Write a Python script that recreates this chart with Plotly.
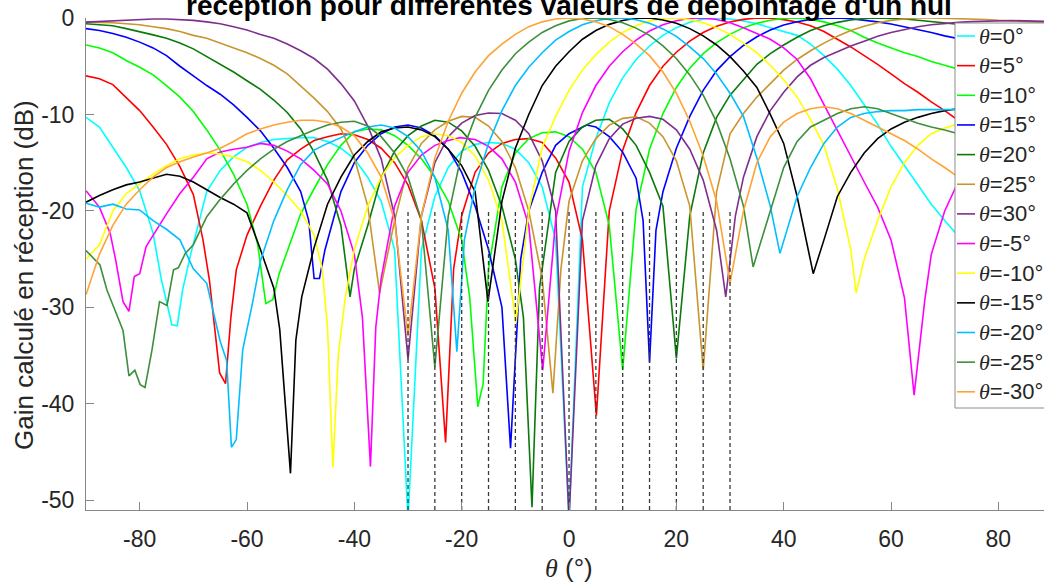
import plotly.graph_objects as go

# ------------------------------------------------------------------ data
TITLE = "réception pour différentes valeurs de dépointage d'un nul"
Y_LABEL = "Gain calculé en réception (dB)"
STEER_LABELS = ["0", "5", "10", "15", "20", "25", "30", "-5", "-10", "-15", "-20", "-25", "-30"]
NULL_ANGLES = [-30, -25, -20, -15, -10, -5, 0, 5, 10, 15, 20, 25, 30]
NULL_MARK_Y = [-51, -20]
X_TICKS = [-80, -60, -40, -20, 0, 20, 40, 60, 80]
X_TICK_TEXT = ["-80", "-60", "-40", "-20", "0", "20", "40", "60", "80"]
Y_TICKS = [-50, -40, -30, -20, -10, 0]
Y_TICK_TEXT = ["-50", "-40", "-30", "-20", "-10", "0"]

X_T0 = [-90, -87.5, -85, -82.5, -80, -77.5, -76, -74, -73, -72, -70.5, -67.5, -65, -62.5, -60, -57.5, -55, -52.5, -50,
        -47.5, -45, -42.5, -40, -37.5, -35, -32.5, -30, -27.5, -25, -22.5, -20, -17.5, -15, -12.5, -10, -7.5, -5, -2.5, 0,
        2.5, 5, 7.5, 10, 12.5, 15, 17.5, 20, 22.5, 25, 27.5, 30, 32.5, 35, 37.5, 40, 42.5, 45, 47.5, 50, 52.5, 55, 57.5,
        60, 62.5, 65, 67.5, 70, 72.5, 75, 77.5, 80, 82.5, 85, 88.5]
G_T0 = [-10.3, -11.3, -13.4, -15.5, -17.9, -22.3, -27, -31.8, -31.9, -28.2, -24.5, -18, -15.8, -14.4, -13.4, -12.9, -12.6,
        -12.5, -12.4, -12.4, -12.8, -13.5, -14.6, -16.5, -19, -24, -52, -24, -18.5, -15.5, -13.8, -13.1, -12.9, -13,
        -13.6, -15, -17.5, -23, -52, -17.5, -12.5, -8.8, -6.2, -4.3, -2.9, -1.8, -1.0, -0.45, -0.12, 0, -0.1, -0.3, -0.6,
        -1.0, -1.4, -1.8, -2.7, -3.9, -5.3, -7.0, -9.0, -11.0, -13.3, -15.3, -17.2, -19.3, -21, -22.6, -25, -28, -30,
        -27, -24, -20]

X_T5 = [-90, -87.5, -85, -82.5, -80, -77.5, -75, -72.5, -70, -68.2, -67, -65.1, -64, -63, -62, -60, -57.5, -55, -52.5,
        -50, -47.5, -45, -42.5, -40, -37.5, -35, -32.5, -30, -27.5, -25, -23, -21.5, -20, -17.5, -15, -12.5, -10, -7.5,
        -5, -2.5, 0, 2.5, 5.1, 7.5, 10, 12.5, 15, 17.5, 20, 22.5, 25, 27.5, 30, 32.5, 35, 37.5, 40, 42.5, 45, 47.5, 50,
        52.5, 55, 57.5, 60, 62.5, 65, 67.5, 70, 72.5, 75, 77.5, 80, 82.5, 85, 88.5]
G_T5 = [-6.0, -6.3, -6.9, -8.2, -9.6, -11.3, -13.1, -15.4, -18.3, -23, -27.2, -36.8, -37.9, -31, -26.1, -22.5, -19.5,
        -16.8, -14.7, -13.6, -12.7, -12.3, -12.0, -12.1, -12.6, -13.5, -15, -17.3, -21, -28, -44, -26, -20.5, -16, -14,
        -13, -12.6, -12.5, -12.9, -14.5, -17, -23, -41.2, -20, -13.7, -9.8, -7.0, -5.0, -3.55, -2.4, -1.5, -0.85, -0.42,
        -0.14, 0, -0.03, -0.17, -0.42, -0.8, -1.4, -2.2, -3.0, -3.9, -4.8, -5.8, -6.8, -7.7, -8.7, -9.6, -10.6, -11.5,
        -12.3, -13, -13.5, -14, -14.5]

X_T10 = [-90, -87.5, -85, -82.5, -80, -77.5, -75, -72.5, -70, -67.5, -65, -62.5, -60, -58, -56.5, -55.2, -54, -52.5,
         -50, -47.5, -45, -42.5, -40, -37.5, -35, -32.5, -30, -27.5, -25, -22.5, -20, -18.5, -17, -16, -15, -12.5, -10,
         -7.5, -5, -2.5, 0, 2.5, 5, 7.5, 10, 12.5, 15, 17.5, 20, 22.5, 25, 27.5, 30, 32.5, 35, 37.5, 40, 42.5, 45, 47.5,
         50, 52.5, 55, 57.5, 60, 62.5, 65, 67.5, 70, 72.5, 75, 77.5, 80, 82.5, 85, 88.5]
G_T10 = [-2.8, -3.1, -3.6, -4.4, -5.1, -5.9, -7.0, -8.2, -9.7, -11.6, -13.7, -16.2, -19.3, -23.5, -29.6, -29.2, -26.5,
         -24.1, -20.3, -17.7, -15.2, -13.2, -11.8, -11.5, -11.6, -12.2, -13.2, -14.6, -16.5, -19, -23, -29, -40.3, -37.9,
         -26, -17.5, -14, -12.5, -11.9, -11.8, -12.3, -13.6, -16, -21.5, -36.5, -19.8, -13.6, -9.9, -7.2, -5.2, -3.7,
         -2.55, -1.7, -1.0, -0.54, -0.23, -0.05, 0, -0.15, -0.4, -0.8, -1.3, -2.0, -2.6, -3.1, -3.6, -4.0, -4.5, -4.9,
         -5.3, -5.8, -6.3, -6.8, -7.2, -7.6, -8.0]

X_T15 = [-90, -87.5, -85, -82.5, -80, -77.5, -75, -72.5, -70, -67.5, -65, -62.5, -60, -57.5, -55, -52.5, -50, -48.5,
         -47.5, -46.5, -45.5, -42.5, -40, -37.5, -35, -32.5, -30, -27.5, -25, -22.5, -20, -17.5, -15, -12.5, -10.9, -9,
         -7.5, -5, -2.5, 0, 3.3, 5, 7.5, 10, 12.5, 13.8, 15, 16.2, 17.5, 20, 22.5, 25, 27.5, 30, 32.5, 35, 37.5, 40, 42.5,
         45, 47.5, 50, 52.5, 55, 57.5, 60, 62.5, 65, 67.5, 70, 72.5, 75, 77.5, 80, 82.5, 85, 88.5]
G_T15 = [-1.1, -1.3, -1.6, -2.0, -2.5, -3.1, -3.9, -5.0, -6.0, -7.0, -7.9, -9.0, -10.3, -11.7, -13.5, -15.5, -18, -21,
         -27, -27, -24.1, -18, -15, -13.2, -12, -11.3, -11.1, -11.4, -12.2, -13.6, -16, -19.5, -24, -30, -44.6, -25, -20,
         -16, -13.2, -12, -11.1, -11.3, -12.3, -13.9, -16.6, -21, -35.7, -22, -18, -13.5, -10.2, -7.5, -5.45, -4.0, -2.85,
         -1.95, -1.24, -0.72, -0.38, -0.15, -0.03, 0, -0.07, -0.2, -0.4, -0.62, -0.9, -1.2, -1.5, -1.85, -2.15, -2.45,
         -2.7, -2.9, -3.1, -3.3, -3.4]

X_T20 = [-90, -87.5, -85, -82.5, -80, -77.5, -75, -72.5, -70, -67.5, -65, -62.5, -60, -57.5, -55, -52.5, -50, -47.5, -45,
         -42.5, -40.8, -40, -37.5, -35, -32.5, -30, -27.5, -25, -22.5, -20, -17.5, -15, -12.5, -10, -8.5, -6.9, -5.5,
         -2.5, 0, 2.5, 5, 7.5, 10, 12.5, 15, 17.5, 20, 22.5, 25, 27.5, 30, 32.5, 35, 37.5, 40, 42.5, 45, 47.5, 50, 52.5,
         55, 57.5, 60, 62.5, 65, 67.5, 70, 72.5, 75, 77.5, 80, 82.5, 85, 88.5]
G_T20 = [-0.6, -0.7, -0.8, -1.1, -1.4, -1.75, -2.1, -2.6, -3.2, -4.0, -4.8, -5.6, -6.5, -7.4, -8.5, -9.8, -11.5, -13.9,
         -16.8, -21.5, -28.9, -26, -21.5, -16.5, -13.8, -12.2, -11.2, -10.6, -10.8, -11.7, -13.3, -15.8, -19.5, -25, -31,
         -50.7, -28, -16, -12.8, -11.3, -10.6, -10.5, -11.5, -13.2, -16, -19.5, -35.3, -20.5, -14, -10.3, -8.0, -6.4,
         -4.8, -3.7, -2.8, -2.0, -1.3, -0.8, -0.45, -0.2, -0.05, 0, -0.03, -0.11, -0.23, -0.37, -0.52, -0.68, -0.83,
         -0.95, -1.1, -1.2, -1.3, -1.35]

X_T25 = [-90, -87.5, -85, -82.5, -80, -77.5, -75, -72.5, -70, -67.5, -65, -62.5, -60, -57.5, -55, -52.5, -50, -47.5, -45,
         -42.5, -40, -37.5, -35.3, -32.5, -30, -27.5, -25, -22.5, -20, -17.5, -15, -12.5, -10, -7.5, -5, -3, -1.5, 0,
         2.5, 5, 7.5, 10, 12.5, 15, 17.5, 20, 22.5, 25, 27.5, 30, 32.5, 35, 37.5, 40, 42.5, 45, 47.5, 50, 52.5, 55, 57.5,
         60, 62.5, 65, 67.5, 70, 72.5, 75, 77.5, 80, 82.5, 85, 88.5]
G_T25 = [-0.43, -0.45, -0.5, -0.6, -0.7, -0.9, -1.1, -1.4, -1.8, -2.1, -2.6, -3.1, -3.6, -4.2, -4.9, -5.8, -7.0, -8.3,
         -9.7, -11.5, -14.5, -19.5, -28.5, -21, -15.5, -13, -11.6, -10.7, -10.2, -10.3, -11.2, -12.8, -15.5, -20, -27,
         -38.9, -26, -19, -14.8, -12.5, -11.1, -10.4, -10.25, -10.9, -12.3, -14.8, -19.5, -36.5, -18, -12, -9.9, -8.2,
         -6.8, -5.4, -4.3, -3.4, -2.6, -1.9, -1.3, -0.85, -0.5, -0.25, -0.1, 0, 0, -0.02, -0.05, -0.1, -0.15, -0.25,
         -0.3, -0.4, -0.45]

X_T30 = [-90, -87.5, -85, -82.5, -80, -77.5, -75, -72.5, -70, -67.5, -65, -62.5, -60, -57.5, -55, -52.5, -50, -47.5, -45,
         -42.5, -40, -37.5, -35, -32.5, -30, -27.5, -25, -22.5, -20, -17.5, -15, -12.5, -10, -7.5, -5, -2.5, 0, 2.5, 5,
         7.5, 10, 12.5, 15, 17.5, 20, 22.5, 25, 27.5, 29.2, 31, 32.5, 35, 37.5, 40, 42.5, 45, 47.5, 50, 52.5, 55, 57.5,
         60, 62.5, 65, 67.5, 70, 72.5, 75, 77.5, 80, 82.5, 85, 88.5]
G_T30 = [-0.43, -0.35, -0.28, -0.2, -0.15, -0.1, -0.1, -0.15, -0.25, -0.4, -0.6, -0.9, -1.25, -1.7, -2.1, -2.7, -3.4,
         -4.2, -5.3, -6.8, -8.6, -11.2, -14.6, -20.5, -35.4, -20.5, -15, -12.3, -10.9, -10.1, -9.85, -9.9, -10.6, -12,
         -14.8, -20, -52, -21, -15.3, -12.5, -11, -10.4, -10.2, -10.5, -11.6, -13.6, -16.8, -22, -28.9, -20.5, -16.5,
         -12.3, -9.6, -7.7, -6.1, -4.9, -4.1, -3.5, -2.9, -2.4, -1.9, -1.5, -1.2, -0.9, -0.7, -0.55, -0.45, -0.38, -0.32,
         -0.28, -0.26, -0.3, -0.35]

X_TM5 = [-90, -87.5, -85.5, -84.5, -83.1, -82, -81, -80, -78.8, -77.5, -75, -72.5, -70, -67.5, -65, -62.5, -60, -57.5,
         -55, -52.5, -50, -47.5, -45, -42.5, -40, -38.5, -37, -36, -35, -32.5, -30, -27.5, -25, -22.5, -20.3, -17.5, -15,
         -12.5, -10, -7.5, -4.9, -2.5, 0, 2.5, 5, 7.5, 10, 12.5, 15, 17.5, 20, 22.5, 25, 27.5, 30, 32.5, 35, 37.5, 40,
         42.5, 45, 47.5, 50, 52.5, 55, 57.5, 60, 62.5, 64.3, 66.3, 67.5, 70, 72.5, 75, 77.5, 80, 82.5, 85, 88.5]
G_TM5 = [-17.9, -19.6, -22.3, -25, -29.4, -30.4, -26.8, -26.5, -23.7, -22.5, -20.3, -18.2, -16.5, -14.6, -13.9, -13.6,
         -13.4, -13.0, -13.2, -13.8, -14.6, -15.8, -17.2, -20, -24.5, -31, -46.5, -32, -27, -19.5, -16, -14.2, -13.2,
         -12.7, -12.4, -12.6, -13.3, -14.6, -17, -21.5, -36.5, -21, -13.8, -9.8, -7.0, -5.0, -3.5, -2.3, -1.35, -0.7,
         -0.28, -0.04, 0, -0.15, -0.5, -1.0, -1.6, -2.2, -3.1, -4.3, -6.3, -9, -11.6, -14.4, -17, -19.6, -23, -29, -39.1,
         -29.2, -24.5, -20, -17, -15.5, -15, -15, -15.5, -16.5, -18]

X_TM10 = [-90, -87.5, -85, -82.5, -80, -77.5, -75, -72.5, -70, -67.5, -65, -62.5, -60, -57.5, -55, -52.5, -50, -47.5,
          -46, -45, -44, -43, -41.7, -40, -37.5, -35, -32.5, -30, -27.5, -25, -22.5, -20, -17.5, -15, -12.5, -9.9, -7.5,
          -5, -2.5, 0, 2.5, 5, 7.5, 10, 12.5, 15, 17.5, 20, 22.5, 25, 27.5, 30, 32.5, 35, 37.5, 40, 42.5, 45, 47.5, 50,
          52.5, 53.5, 55, 57.5, 60, 62.5, 65, 67.5, 70, 72.5, 75, 77.5, 80, 82.5, 85, 88.5]
G_TM10 = [-25, -23.5, -20, -18.2, -17.2, -16.2, -15.3, -14.6, -14.2, -14.0, -14.1, -14.4, -14.9, -15.8, -17, -18.4, -20,
          -22.5, -26, -32, -46.6, -35, -29, -24, -19.5, -16.5, -14.5, -13.2, -12.3, -12.0, -12.2, -12.9, -14.3, -16.8,
          -21, -31.6, -20, -13.4, -10.2, -7.5, -5.4, -3.8, -2.5, -1.5, -0.8, -0.3, -0.05, 0, -0.17, -0.5, -1.0, -1.7,
          -2.6, -3.6, -4.9, -6.4, -8.2, -10.5, -13.2, -17.7, -24, -28.5, -25, -21, -17.5, -15, -13.2, -12, -11.4, -11,
          -10.8, -11, -11.5, -12.5, -13.5, -15]

X_TM15 = [-90, -87.5, -85, -82.5, -80, -77.5, -75, -72.5, -70, -67.5, -65, -62.5, -60, -57.5, -55, -53.9, -51.9, -50.9,
          -49.8, -47.5, -45, -42.5, -40, -37.5, -35, -32.5, -30, -27.5, -25, -22.5, -20, -17.5, -15.1, -12.5, -10, -7.5,
          -5, -2.5, 0, 2.5, 5, 7.5, 10, 12.5, 15, 17.5, 20, 22.5, 25, 27.5, 30, 32.5, 35, 37.5, 40, 42.5, 45.5, 47.5, 50,
          52.5, 55, 57.5, 60, 62.5, 65, 67.5, 70, 72.5, 75, 77.5, 80, 82.5, 85, 88.5]
G_TM15 = [-19.1, -18.4, -17.8, -17.3, -17.0, -16.6, -16.2, -16.4, -17, -17.8, -18.6, -19.3, -20.2, -24, -28, -32.3,
          -47.2, -33.4, -28.9, -23.8, -19.3, -16.5, -14.2, -12.8, -11.8, -11.4, -11.3, -11.6, -12.3, -13.6, -15.3, -18,
          -29.4, -19, -13.5, -10, -7.0, -5.0, -3.5, -2.2, -1.3, -0.66, -0.25, -0.03, 0, -0.2, -0.55, -1.1, -1.85, -2.8,
          -4.0, -5.5, -7.2, -10.0, -13.0, -18.5, -26.5, -23, -18.5, -16, -14, -12.5, -11.5, -10.8, -10.3, -9.9, -9.6,
          -9.4, -9.5, -10, -11, -12, -13, -14]

X_TM20 = [-90, -87.5, -85, -82.5, -80, -77.5, -75, -72.5, -70, -67.5, -65, -63.8, -62.9, -62, -60.8, -59, -57.5, -55,
          -52.5, -50, -47.5, -45, -42.5, -40, -37.5, -35, -32.5, -30, -27.5, -25, -22.5, -20.9, -19.5, -17.5, -15, -12.5,
          -10, -7.5, -5, -2.5, 0, 2.5, 5, 7.5, 10, 12.5, 15, 17.5, 20, 22.5, 25, 27.5, 30, 32.5, 35, 37.5, 39.3, 42.5, 45,
          47.5, 50, 52.5, 55, 57.5, 60, 62.5, 65, 67.5, 70, 72.5, 75, 77.5, 80, 82.5, 85, 88.5]
G_TM20 = [-19.2, -19.6, -19.3, -19.8, -19.9, -21, -21.9, -23, -26, -27.5, -33.5, -35.5, -44.5, -43.7, -34.4, -29.6,
          -25.2, -21, -17.8, -15.2, -13.7, -13.0, -12.4, -11.8, -11.3, -11.1, -11.4, -12.3, -13.8, -16.5, -22, -34.6, -23,
          -17.5, -13, -9.6, -7.0, -5.1, -3.6, -2.3, -1.4, -0.7, -0.28, -0.04, 0, -0.18, -0.55, -1.13, -1.9, -3.0, -4.2,
          -5.8, -7.8, -10.2, -14.5, -19.5, -24.4, -18.5, -15.5, -13, -11.3, -10.3, -9.9, -9.7, -9.6, -9.6, -9.5, -9.5,
          -9.5, -9.5, -10, -11, -12, -13, -14, -15]

X_TM25 = [-90, -87.4, -86.1, -83.1, -82, -80.9, -79.9, -79, -77.7, -76.3, -74.9, -73.7, -72.8, -71.5, -70, -67.5, -65,
          -62.5, -60, -57.5, -55, -52.5, -50, -47.5, -45, -42.5, -40, -37.5, -35, -32.5, -30, -27.5, -25, -22.5, -20,
          -17.5, -15, -12.5, -10, -7.5, -5, -2.5, 0, 2.5, 5, 7.5, 10, 12.5, 15, 17.5, 20, 22.5, 25, 27.5, 30, 32.5, 34.3,
          37.5, 40, 42.5, 45, 47.5, 50, 52.5, 55, 57.5, 60, 62.5, 65, 67.5, 70, 72.5, 75, 77.5, 80, 82.5, 85, 88.5]
G_TM25 = [-24.1, -25.6, -28.2, -32.4, -37.1, -36.5, -38, -38.3, -34.4, -29.4, -29.8, -26.1, -25.9, -24.4, -23.5, -20.6,
          -18.8, -17.2, -15.8, -14.6, -13.6, -12.8, -12.2, -11.6, -11.1, -10.8, -10.7, -11.2, -12.3, -14, -16.5, -21,
          -36.2, -20.5, -14, -10.3, -7.5, -5.4, -3.7, -2.5, -1.5, -0.8, -0.3, -0.05, 0, -0.15, -0.5, -1.05, -1.8, -2.9,
          -4.2, -5.9, -8.0, -10.8, -14.6, -19.5, -25.8, -20, -15.5, -12.8, -11.3, -10.6, -9.9, -9.4, -9.2, -9.4, -9.9,
          -10.4, -10.9, -11.3, -11.6, -12, -13, -14, -15.5, -17, -19, -21]

X_TM30 = [-90, -87.5, -85, -82.5, -80, -77.5, -75, -72.5, -70, -67.5, -65, -62.5, -60, -57.5, -55, -52.5, -50, -47.5,
          -45, -42.5, -40, -37.5, -35, -32.5, -30, -27.5, -25, -22.5, -20, -17.5, -15, -12.5, -10, -7.5, -5, -2.5, 0, 2.5,
          5, 7.5, 10, 12.5, 15, 17.5, 20, 22.5, 25, 27.5, 30, 32.5, 35, 37.5, 40, 42.5, 45, 47.5, 50, 52.5, 55, 57.5, 60,
          62.5, 65, 67.5, 70, 72.5, 75, 77.5, 80, 82.5, 85, 88.5]
G_TM30 = [-28.7, -24.5, -21.5, -19.3, -17.8, -16.5, -15.5, -14.9, -14.4, -14.0, -13.5, -12.8, -12.0, -11.5, -11.1,
          -10.8, -10.6, -10.6, -10.8, -11.3, -12.2, -14.0, -16.5, -21, -33, -20.5, -14.5, -10.7, -7.8, -5.6, -3.9, -2.7,
          -1.7, -0.9, -0.4, -0.1, 0, -0.1, -0.4, -0.9, -1.7, -2.7, -3.9, -5.6, -7.8, -10.7, -14.3, -19, -27.5, -20, -15,
          -12.3, -10.8, -9.9, -9.4, -9.2, -9.4, -9.9, -10.6, -11.3, -12.0, -12.7, -13.6, -14.6, -15.5, -16.5, -18, -20,
          -22, -24, -26, -28]

# ------------------------------------------------------------------ style
COLORS = ["#00ffff", "#ff0000", "#00ff00", "#0000ff", "#0a7a0a", "#c9952e", "#7e2f8e",
          "#ff00ff", "#ffff00", "#000000", "#00bfff", "#3d8f3d", "#ffa333"]
SERIES = [(X_T0, G_T0), (X_T5, G_T5), (X_T10, G_T10), (X_T15, G_T15), (X_T20, G_T20), (X_T25, G_T25),
          (X_T30, G_T30), (X_TM5, G_TM5), (X_TM10, G_TM10), (X_TM15, G_TM15), (X_TM20, G_TM20),
          (X_TM25, G_TM25), (X_TM30, G_TM30)]
for i, (xs, ys) in enumerate(SERIES):
    assert len(xs) == len(ys), (STEER_LABELS[i], len(xs), len(ys))

W, H = 1044, 582
ML, MR, MT, MB = 86, 0, 18, 72
PW, PH = W - ML - MR, H - MT - MB
FONT = "Arial, Liberation Sans, Helvetica, sans-serif"
TXT = "#262626"
AX = "#868686"
THETA = '<span style="font-family:Liberation Serif, Times New Roman, serif;font-style:italic">θ</span>'


def px(xp):
    return (xp - ML) / PW


def py(yp):
    return (H - MB - yp) / PH


fig = go.Figure()
for (xs, ys), col, lab in zip(SERIES, COLORS, STEER_LABELS):
    fig.add_trace(go.Scatter(x=xs, y=ys, mode="lines", name="θ=" + lab + "°",
                             line=dict(color=col, width=1.6), showlegend=False, hoverinfo="skip"))

# dashed markers at the steered null directions
dx, dy = [], []
for a in NULL_ANGLES:
    dx += [a, a, None]
    dy += [NULL_MARK_Y[0], NULL_MARK_Y[1], None]
fig.add_trace(go.Scatter(x=dx, y=dy, mode="lines", line=dict(color="#3a3a3a", width=1.3, dash="4px,3px"),
                         showlegend=False, hoverinfo="skip"))

shapes, annos = [], []
# legend box (drawn manually, MATLAB style)
LEG_L, LEG_T, LEG_B = 955, 23, 408
shapes.append(dict(type="rect", xref="paper", yref="paper", x0=px(LEG_L), x1=px(1070), y0=py(LEG_B), y1=py(LEG_T),
                   line=dict(color="#8c8c8c", width=1), fillcolor="white", layer="above"))
for i, (col, lab) in enumerate(zip(COLORS, STEER_LABELS)):
    yc = 36 + 29.65 * i
    shapes.append(dict(type="line", xref="paper", yref="paper", x0=px(957), x1=px(975), y0=py(yc), y1=py(yc),
                       line=dict(color=col, width=1.6), layer="above"))
    annos.append(dict(xref="paper", yref="paper", x=px(978), y=py(yc), xanchor="left", yanchor="middle",
                      text=THETA + "=" + lab + "°", showarrow=False, borderpad=0,
                      font=dict(family=FONT, size=22, color=TXT)))

annos.append(dict(xref="x", yref="paper", x=0, y=1, yanchor="bottom", xanchor="center", yshift=-4,
                  text="<b>" + TITLE + "</b>", showarrow=False, borderpad=0,
                  font=dict(family=FONT, size=28, color="#000000")))
annos.append(dict(xref="paper", yref="paper", x=px(24), y=py(275), xanchor="center", yanchor="middle",
                  text=Y_LABEL, textangle=-90, showarrow=False, font=dict(family=FONT, size=26, color=TXT)))
annos.append(dict(xref="x", yref="paper", x=0, y=py(568), xanchor="center", yanchor="middle",
                  text=THETA + " (°)", showarrow=False, font=dict(family=FONT, size=26, color=TXT)))

fig.update_layout(
    width=W, height=H, margin=dict(l=ML, r=MR, t=MT, b=MB, autoexpand=False),
    paper_bgcolor="white", plot_bgcolor="white", showlegend=False,
    shapes=shapes, annotations=annos,
    xaxis=dict(range=[-90, 88.5], tickvals=X_TICKS, ticktext=X_TICK_TEXT, ticks="inside", ticklen=8,
               tickcolor=AX, showline=True, linecolor=AX, linewidth=1, showgrid=False, zeroline=False,
               tickfont=dict(family=FONT, size=23, color=TXT), ticklabelstandoff=8),
    yaxis=dict(range=[-51, 0], tickvals=Y_TICKS, ticktext=Y_TICK_TEXT, ticks="inside", ticklen=8,
               tickcolor=AX, showline=True, linecolor=AX, linewidth=1, showgrid=False, zeroline=False,
               tickfont=dict(family=FONT, size=23, color=TXT), ticklabelstandoff=6),
)

fig.write_html("out.html", config={"displayModeBar": False, "staticPlot": True},
               post_script="document.body.style.margin='0px';document.body.style.overflow='hidden';")
